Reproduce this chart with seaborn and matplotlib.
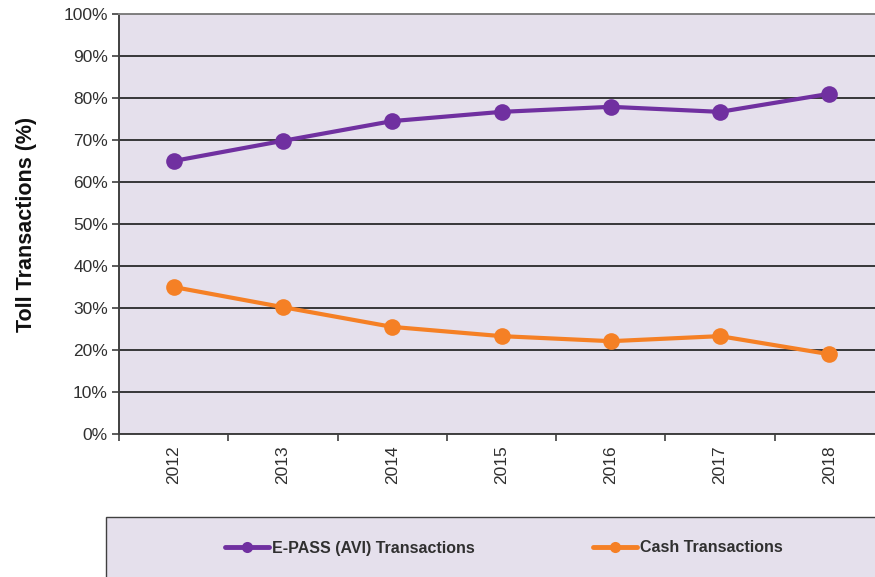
import numpy as np
import pandas as pd
import matplotlib
matplotlib.use("Agg")
import matplotlib.pyplot as plt
from matplotlib.patches import Rectangle
from matplotlib.ticker import FixedLocator, PercentFormatter
import seaborn as sns

years = ["2012", "2013", "2014", "2015", "2016", "2017", "2018"]
epass_pct = [65.0, 69.8, 74.5, 76.7, 77.9, 76.7, 81.0]
cash_pct = [35.0, 30.2, 25.5, 23.3, 22.1, 23.3, 19.0]
series_names = ["E-PASS (AVI) Transactions", "Cash Transactions"]

df = pd.DataFrame({
    "Year": years * 2,
    "Share": epass_pct + cash_pct,
    "Series": [series_names[0]] * len(years) + [series_names[1]] * len(years),
})

sns.set_theme(style="white")
plt.rcParams["font.family"] = ["Liberation Sans", "DejaVu Sans"]

BG = "#E5E0EC"
PURPLE = "#7030A0"
ORANGE = "#F58025"
TXT = "#303030"

fig = plt.figure(figsize=(8.75, 5.77), dpi=100)
ax = fig.add_axes([119 / 875, 143 / 577, 765 / 875, 420 / 577])
ax.set_facecolor(BG)

sns.lineplot(
    data=df, x="Year", y="Share", hue="Series",
    palette=[PURPLE, ORANGE], marker="o", markersize=12,
    markeredgewidth=0, linewidth=3.0, sort=False, ax=ax, legend=True,
)

ax.set_ylim(0, 100)
ax.set_xlim(-0.5, len(years) - 0.5)
ax.yaxis.set_major_locator(FixedLocator(np.arange(0, 101, 10)))
ax.yaxis.set_major_formatter(PercentFormatter(decimals=0))
ax.grid(axis="y", color="#1a1a1a", linewidth=1.2)
ax.set_axisbelow(True)

ax.xaxis.set_minor_locator(FixedLocator(np.arange(-0.5, len(years), 1.0)))
ax.tick_params(axis="x", which="major", length=0, pad=8, labelsize=12.5,
               labelrotation=90, colors=TXT)
ax.tick_params(axis="x", which="minor", length=5, width=1.2, color="#404040",
               bottom=True)
ax.tick_params(axis="y", which="major", length=5, width=1.2, color="#404040",
               labelsize=12.5, labelcolor=TXT, left=True, pad=3)

for side in ["left", "bottom"]:
    ax.spines[side].set_color("#404040")
    ax.spines[side].set_linewidth(1.4)
ax.spines["top"].set_color("#808080")
ax.spines["top"].set_linewidth(1.4)
ax.spines["right"].set_visible(False)

ax.set_xlabel("")
ax.set_ylabel("Toll Transactions (%)", fontsize=15.5, fontweight="bold",
              color="#111111", labelpad=19)

handles, labels = ax.get_legend_handles_labels()
ax.get_legend().remove()

fig.patches.append(Rectangle((106 / 875, -0.02), 1.0, (577 - 517) / 577 + 0.02,
                             transform=fig.transFigure, facecolor=BG,
                             edgecolor="#404040", linewidth=1.0, zorder=0))
for h in handles:
    h.set_markersize(8)
    h.set_linewidth(3.5)
fig.legend(handles, labels, loc="center", ncol=2,
           bbox_to_anchor=(504 / 875, 29 / 577), frameon=False,
           prop={"weight": "bold", "size": 11.5},
           labelcolor=TXT, handlelength=2.7, handletextpad=0.2,
           columnspacing=7.45)

fig.savefig("out.png", dpi=100, facecolor="white")
